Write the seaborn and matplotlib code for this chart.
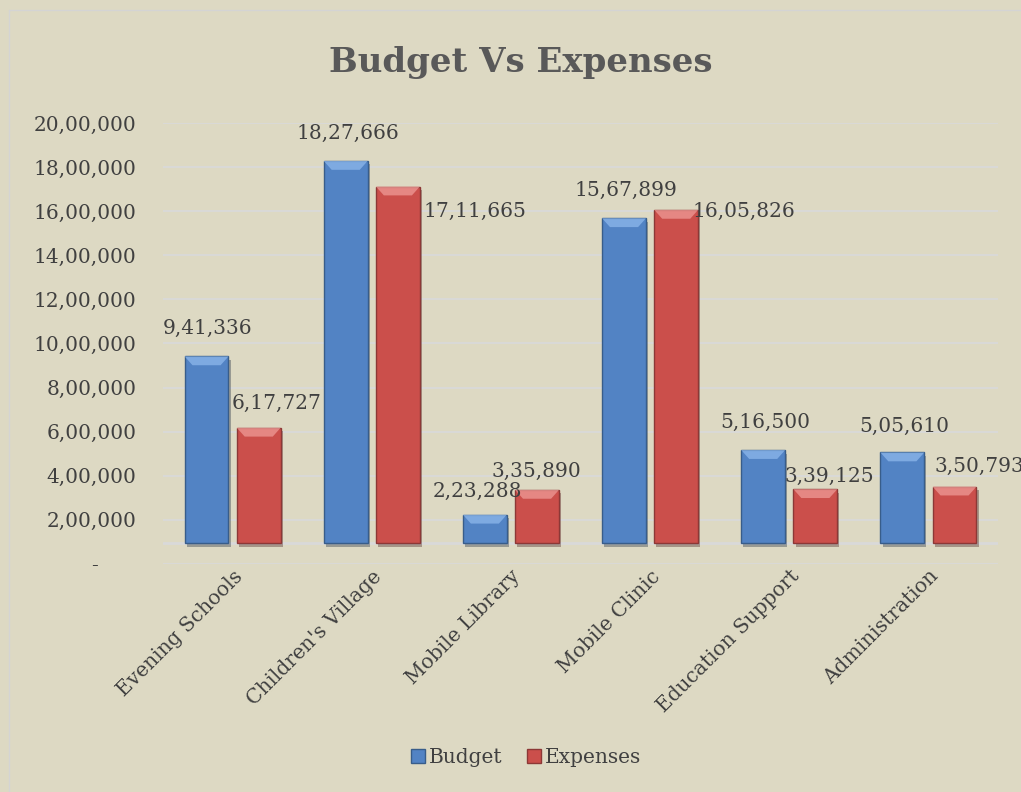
import matplotlib
matplotlib.use("Agg")
import matplotlib.pyplot as plt
import matplotlib.patheffects as pe
from matplotlib.patches import Patch, Polygon
from matplotlib.lines import Line2D
import seaborn as sns
import pandas as pd

programs = ["Evening Schools", "Children's Village", "Mobile Library",
            "Mobile Clinic", "Education Support", "Administration"]
budget = [941336, 1827666, 223288, 1567899, 516500, 505610]
expenses = [617727, 1711665, 335890, 1605826, 339125, 350793]
series = ["Budget", "Expenses"]
yticks = [0, 200000, 400000, 600000, 800000, 1000000, 1200000,
          1400000, 1600000, 1800000, 2000000]

# label offsets in pixels from the bar top (excel put them oddly)
budget_off = [(1, 28), (2, 28), (-7, 23), (2, 28), (2, 28), (2, 26)]
expense_off = [(18, 24), (77, -25), (-1, 19), (68, -1), (14, 13), (25, 20)]

bg = "#DDD9C3"
grid_c = "#D9D9D9"
txt_c = "#404040"
blue, red = "#5283C4", "#CB4F4B"
floor = 95000  # 3d floor of the excel chart
fs = 14.5


def indian(n):
    s = str(int(round(n)))
    if n == 0:
        return "-      "
    last = s[-3:]
    rest = s[:-3]
    parts = []
    while len(rest) > 2:
        parts.insert(0, rest[-2:])
        rest = rest[:-2]
    if rest:
        parts.insert(0, rest)
    return ",".join(parts + [last])


sns.set_style("white")
plt.rcParams["font.family"] = ["DejaVu Serif"]

df = pd.DataFrame({"Program": programs * 2,
                   "Series": [series[0]] * 6 + [series[1]] * 6,
                   "Amount": budget + expenses})

fig = plt.figure(figsize=(10.21, 7.92), dpi=100, facecolor=bg)
ax = fig.add_axes([0.1597, 0.2879, 0.8178, 0.5568])
ax.set_facecolor(bg)

sns.barplot(data=df, x="Program", y="Amount", hue="Series",
            palette=[blue, red], width=0.75, gap=0.16, saturation=1,
            edgecolor="none", legend=False, ax=ax, zorder=3)

ax.set_ylim(0, 2000000)
ax.set_xlim(-0.5, 5.5)
ax.set_yticks(yticks)
ax.set_yticklabels([indian(v) for v in yticks])
ax.yaxis.grid(True, color=grid_c, lw=1.3, zorder=0)
ax.axhline(floor, color=grid_c, lw=2, zorder=1)
for s in ax.spines.values():
    s.set_visible(False)
ax.tick_params(axis="both", length=0, labelsize=fs, labelcolor=txt_c)
ax.tick_params(axis="y", pad=19)
ax.tick_params(axis="x", pad=2)
plt.setp(ax.get_xticklabels(), rotation=45, ha="right",
         rotation_mode="anchor")
ax.set_xlabel("")
ax.set_ylabel("")

edge_c = ["#385D8A", "#8C3836"]
light_c = ["#8DB8EC", "#EE9A96"]
offs = [budget_off, expense_off]
for k, cont in enumerate(ax.containers):
    for i, bar in enumerate(cont):
        top = bar.get_height()
        bar.set_y(floor)
        bar.set_height(top - floor)
        bar.set_edgecolor(edge_c[k])
        bar.set_linewidth(1)
        bar.set_path_effects([pe.SimplePatchShadow(offset=(1.5, -2.5),
                                                   alpha=0.35), pe.Normal()])
        x0 = bar.get_x()
        w = bar.get_width()
        # top bevel
        bev_h = min(40000, (top - floor) * 0.45)
        bev = Polygon([(x0, top), (x0 + w, top), (x0 + w * 0.82, top - bev_h),
                       (x0 + w * 0.18, top - bev_h)], closed=True,
                      facecolor=light_c[k], edgecolor="none", alpha=0.75,
                      zorder=4)
        ax.add_patch(bev)
        dx, dy = offs[k][i]
        ax.annotate(indian(top), (x0 + w / 2, top), xytext=(dx, dy),
                    textcoords="offset pixels", ha="center", va="center",
                    fontsize=fs, color=txt_c, zorder=5,
                    annotation_clip=False)

fig.text(0.51, 0.921, "Budget Vs Expenses", ha="center", va="center",
         fontsize=24.5, fontweight="bold", color="#595959")

handles = [Patch(facecolor=blue, edgecolor=edge_c[0], label=series[0]),
           Patch(facecolor=red, edgecolor=edge_c[1], label=series[1])]
fig.legend(handles=handles, loc="center", bbox_to_anchor=(0.515, 0.044),
           ncol=2, frameon=False, fontsize=fs, handlelength=0.7,
           handleheight=0.7, handletextpad=0.2, columnspacing=1.2,
           labelcolor=txt_c)

# thin outer border, only left and top fall inside the picture
fig.lines.append(Line2D([9 / 1021, 9 / 1021], [0, 1 - 10 / 792],
                        transform=fig.transFigure, color="#D4D4D4", lw=1))
fig.lines.append(Line2D([9 / 1021, 1], [1 - 10 / 792, 1 - 10 / 792],
                        transform=fig.transFigure, color="#D4D4D4", lw=1))

fig.savefig("out.png", dpi=100, facecolor=bg)
